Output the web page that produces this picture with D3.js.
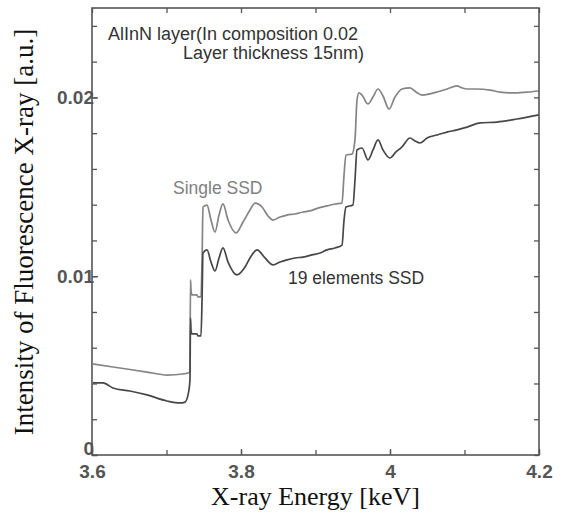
<!DOCTYPE html>
<html>
<head>
<meta charset="utf-8">
<script src="https://cdn.jsdelivr.net/npm/d3@7/dist/d3.min.js"></script>
<style>
  html, body { margin: 0; padding: 0; background: #fff; }
  svg { display: block; }
</style>
</head>
<body>
<svg id="chart" width="564" height="514"></svg>
<script>
// ---- data ----
const singleEnergy = [3.6013, 3.6282, 3.6738, 3.7007, 3.7221, 3.7289, 3.7315, 3.7322, 3.7329, 3.7342, 3.7409, 3.7423, 3.7463, 3.7477, 3.749, 3.7544, 3.7597, 3.7651, 3.7705, 3.7758, 3.7826, 3.7933, 3.8027, 3.8121, 3.8188, 3.8282, 3.8362, 3.843, 3.8523, 3.8617, 3.8725, 3.8832, 3.8926, 3.9034, 3.9154, 3.9262, 3.9356, 3.9383, 3.9409, 3.949, 3.953, 3.9557, 3.9584, 3.9624, 3.9705, 3.9772, 3.9839, 3.9906, 3.9987, 4.0067, 4.0161, 4.0268, 4.0349, 4.043, 4.0537, 4.0631, 4.0765, 4.0899, 4.0966, 4.1034, 4.1168, 4.1342, 4.1477, 4.1651, 4.1839, 4.2];
const singleValue = [0.00509, 0.00492, 0.00464, 0.00447, 0.00453, 0.00459, 0.00464, 0.00979, 0.00923, 0.00895, 0.00895, 0.00884, 0.00884, 0.01091, 0.01387, 0.01398, 0.01314, 0.01247, 0.01342, 0.01404, 0.01314, 0.01242, 0.01303, 0.0137, 0.01409, 0.01387, 0.01337, 0.01314, 0.01331, 0.01342, 0.01348, 0.01359, 0.01365, 0.01381, 0.01393, 0.01404, 0.01409, 0.01566, 0.01678, 0.01683, 0.01762, 0.01985, 0.02025, 0.02013, 0.01963, 0.02002, 0.02047, 0.02008, 0.01935, 0.02002, 0.02047, 0.02053, 0.0203, 0.02013, 0.0202, 0.0203, 0.02047, 0.02064, 0.02053, 0.02047, 0.02047, 0.02041, 0.0203, 0.02025, 0.0203, 0.02036];

const multiEnergy = [3.6013, 3.6148, 3.6282, 3.651, 3.6738, 3.7007, 3.7181, 3.7248, 3.7289, 3.7315, 3.7322, 3.7329, 3.7342, 3.7409, 3.7423, 3.7463, 3.7477, 3.749, 3.7544, 3.7597, 3.7651, 3.7705, 3.7758, 3.7826, 3.7946, 3.8054, 3.8121, 3.8215, 3.8322, 3.843, 3.8523, 3.8617, 3.8725, 3.8832, 3.8953, 3.906, 3.9154, 3.9262, 3.9356, 3.9383, 3.9409, 3.9503, 3.953, 3.9557, 3.9624, 3.9705, 3.9772, 3.9839, 3.9906, 4.0, 4.008, 4.0161, 4.0268, 4.0336, 4.0403, 4.0497, 4.0631, 4.0765, 4.0899, 4.1034, 4.1208, 4.1436, 4.1705, 4.2];
const multiValue = [0.00403, 0.00403, 0.00375, 0.00358, 0.00336, 0.00302, 0.00291, 0.00296, 0.00336, 0.00419, 0.00766, 0.00699, 0.00677, 0.00677, 0.00666, 0.00666, 0.00867, 0.0113, 0.01147, 0.01079, 0.01029, 0.01102, 0.01158, 0.01079, 0.01007, 0.01051, 0.01102, 0.01147, 0.01102, 0.01063, 0.01079, 0.01091, 0.01102, 0.01107, 0.01119, 0.0113, 0.01147, 0.01158, 0.01174, 0.01314, 0.01387, 0.01398, 0.01538, 0.01706, 0.01717, 0.0165, 0.01706, 0.01762, 0.01706, 0.01661, 0.01695, 0.01723, 0.01773, 0.01756, 0.01745, 0.01773, 0.0179, 0.01806, 0.01818, 0.01834, 0.01857, 0.01862, 0.01879, 0.01902];

const xMajorTicks = [3.6, 3.8, 4.0, 4.2];
const xTickLabels = ["3.6", "3.8", "4", "4.2"];
const xMinorTicks = [3.6, 3.7, 3.8, 3.9, 4.0, 4.1, 4.2];
const yMajorTicks = [0, 0.01, 0.02];
const yTickLabels = ["0", "0.01", "0.02"];
const yMinorTicks = [0, 0.002, 0.004, 0.006, 0.008, 0.01, 0.012, 0.014, 0.016, 0.018, 0.02, 0.022, 0.024];

const xTitle = "X-ray Energy [keV]";
const yTitle = "Intensity of Fluorescence X-ray [a.u.]";
const noteLines = ["AlInN layer(In composition 0.02", "Layer thickness 15nm)"];
const singleLabel = "Single SSD";
const multiLabel = "19 elements SSD";

// ---- layout ----
const L = 92, R = 539, T = 8, B = 455;
const svg = d3.select("#chart");
const x = d3.scaleLinear().domain([3.6, 4.2]).range([L, R]);
const y = d3.scaleLinear().domain([0, 0.025]).range([B, T]);

const frameColor = "#555";
const sansFont = "'Liberation Sans', Arial, Helvetica, sans-serif";
const serifFont = "'Liberation Serif', 'Times New Roman', serif";

// lines
const line = d3.line().x(d => x(d[0])).y(d => y(d[1])).curve(d3.curveMonotoneX);
const singleData = singleEnergy.map((e, i) => [e, singleValue[i]]);
const multiData = multiEnergy.map((e, i) => [e, multiValue[i]]);

svg.append("path").datum(singleData).attr("d", line)
  .attr("fill", "none").attr("stroke", "#858585").attr("stroke-width", 1.7)
  .attr("stroke-linejoin", "round");
svg.append("path").datum(multiData).attr("d", line)
  .attr("fill", "none").attr("stroke", "#474747").attr("stroke-width", 1.7)
  .attr("stroke-linejoin", "round");

// axes (ticks inward)
function styleAxis(g) {
  g.select(".domain").remove();
  g.selectAll(".tick line").attr("stroke", frameColor).attr("stroke-width", 1.3);
  g.selectAll(".tick text").attr("fill", "#555").attr("font-family", sansFont)
    .attr("font-size", 19).attr("font-weight", "bold");
}
svg.append("g").attr("transform", `translate(0,${B})`)
  .call(d3.axisBottom(x).tickValues(xMinorTicks).tickSize(-5).tickFormat(""))
  .call(styleAxis);
svg.append("g").attr("transform", `translate(0,${B})`)
  .call(d3.axisBottom(x).tickValues(xMajorTicks).tickSize(-6).tickPadding(10)
    .tickFormat((d, i) => xTickLabels[i]))
  .call(styleAxis);
svg.append("g").attr("transform", `translate(0,${T})`)
  .call(d3.axisTop(x).tickValues(xMinorTicks).tickSize(-5).tickFormat(""))
  .call(styleAxis);
svg.append("g").attr("transform", `translate(${L},0)`)
  .call(d3.axisLeft(y).tickValues(yMinorTicks).tickSize(-5).tickFormat(""))
  .call(styleAxis);
const yMajor = svg.append("g").attr("transform", `translate(${L},0)`)
  .call(d3.axisLeft(y).tickValues(yMajorTicks).tickSize(-6).tickPadding(-2)
    .tickFormat((d, i) => yTickLabels[i]))
  .call(styleAxis);
// lift the "0" label a little so it sits above the "3.6" label, as in the reference
yMajor.selectAll(".tick text").filter(d => d === 0).attr("dy", "-0.05em");
svg.append("g").attr("transform", `translate(${R},0)`)
  .call(d3.axisRight(y).tickValues(yMinorTicks).tickSize(-5).tickFormat(""))
  .call(styleAxis);

// frame
svg.append("rect").attr("x", L).attr("y", T).attr("width", R - L).attr("height", B - T)
  .attr("fill", "none").attr("stroke", frameColor).attr("stroke-width", 1.6);

// titles
svg.append("text").attr("x", (L + R) / 2).attr("y", 505)
  .attr("text-anchor", "middle").attr("font-family", serifFont).attr("font-size", 26)
  .attr("fill", "#111").text(xTitle);
svg.append("text").attr("transform", `translate(33,232) rotate(-90)`)
  .attr("text-anchor", "middle").attr("font-family", serifFont).attr("font-size", 27)
  .attr("fill", "#111").text(yTitle);

// annotations
svg.append("text").attr("x", 358).attr("y", 40).attr("text-anchor", "end")
  .attr("font-family", sansFont).attr("font-size", 18).attr("fill", "#333")
  .text(noteLines[0]);
svg.append("text").attr("x", 364).attr("y", 59).attr("text-anchor", "end")
  .attr("font-family", sansFont).attr("font-size", 18).attr("fill", "#333")
  .text(noteLines[1]);
svg.append("text").attr("x", 173).attr("y", 194)
  .attr("font-family", sansFont).attr("font-size", 17.5).attr("fill", "#808080")
  .text(singleLabel);
svg.append("text").attr("x", 288).attr("y", 284)
  .attr("font-family", sansFont).attr("font-size", 17.5).attr("fill", "#333")
  .text(multiLabel);
</script>
</body>
</html>
